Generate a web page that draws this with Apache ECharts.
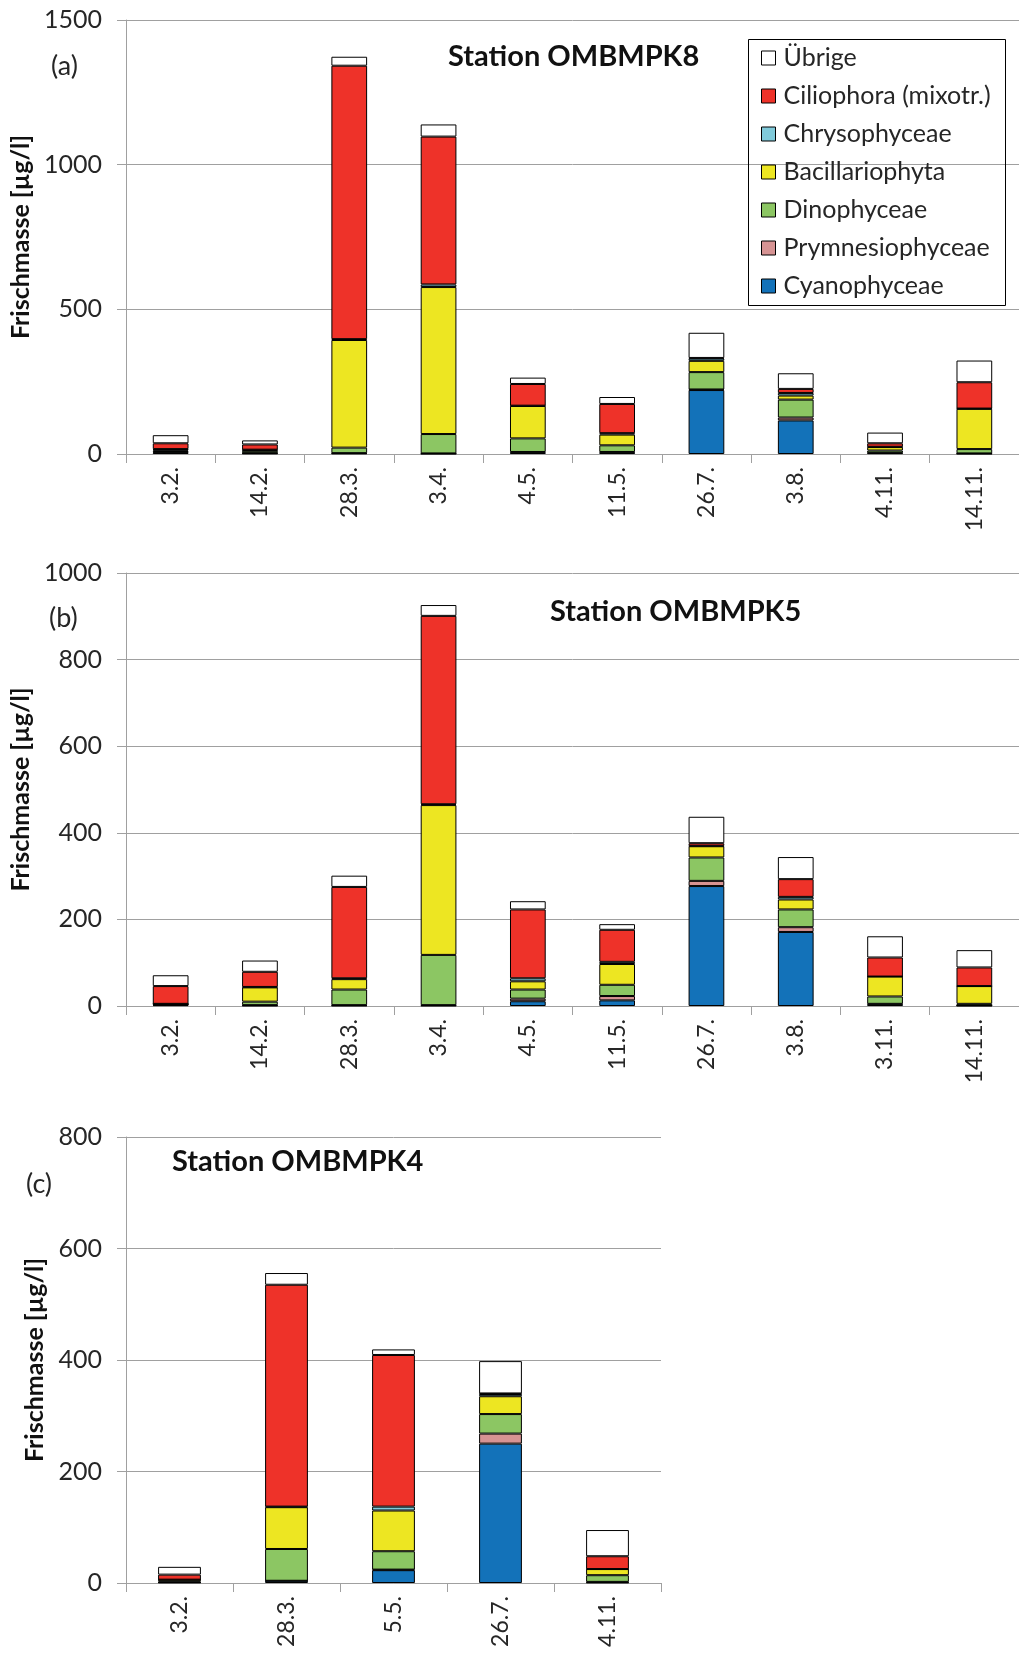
<!DOCTYPE html>
<html>
<head>
<meta charset="utf-8">
<script src="https://cdn.jsdelivr.net/npm/echarts@6/dist/echarts.min.js"></script>
<style>
html,body{margin:0;padding:0;background:#fff;}
#chart{width:1019px;height:1656px;}
</style>
</head>
<body>
<div id="chart"></div>
<script>
// ---- Data ----
const seriesNames = ['Cyanophyceae','Prymnesiophyceae','Dinophyceae','Bacillariophyta','Chrysophyceae','Ciliophora (mixotr.)','Übrige'];
const legendOrder = ['Übrige','Ciliophora (mixotr.)','Chrysophyceae','Bacillariophyta','Dinophyceae','Prymnesiophyceae','Cyanophyceae'];
const seriesColors = ['#1372B9','#D69393','#8CC663','#EDE622','#80CADA','#EE3229','#FFFFFF'];

const panelTitles = ['Station OMBMPK8','Station OMBMPK5','Station OMBMPK4'];
const panelLetters = ['(a)','(b)','(c)'];
const yAxisName = 'Frischmasse [µg/l]';

// Station OMBMPK8 (a)
const catsA = ['3.2.','14.2.','28.3.','3.4.','4.5.','11.5.','26.7.','3.8.','4.11.','14.11.'];
const cyanoA  = [5, 2, 2, 1, 5, 5, 221, 116, 3, 1];
const prymA   = [2, 1, 1, 1, 2, 2, 2, 10, 1, 1];
const dinoA   = [5, 8, 19, 67, 47, 23, 60, 62, 8, 15];
const bacilA  = [3, 3, 372, 508, 112, 37, 39, 14, 12, 139];
const chrysoA = [2, 1, 3, 9, 1, 5, 8, 9, 1, 1];
const ciliA   = [20, 18, 945, 511, 75, 101, 2, 14, 12, 91];
const uebrigA = [28, 14, 31, 42, 22, 24, 87, 54, 37, 75];

// Station OMBMPK5 (b)
const catsB = ['3.2.','14.2.','28.3.','3.4.','4.5.','11.5.','26.7.','3.8.','3.11.','14.11.'];
const cyanoB  = [2, 1, 1, 1, 11, 13, 277, 171, 4, 1];
const prymB   = [1, 1, 1, 1, 6, 10, 12, 11, 1, 0];
const dinoB   = [1, 8, 36, 116, 21, 26, 54, 41, 17, 4];
const bacilB  = [1, 33, 24, 346, 19, 48, 26, 23, 46, 41];
const chrysoB = [0, 1, 2, 2, 7, 5, 1, 6, 0, 0];
const ciliB   = [41, 35, 211, 435, 159, 74, 6, 41, 44, 43];
const uebrigB = [25, 26, 26, 25, 19, 13, 61, 51, 49, 40];

// Station OMBMPK4 (c)
const catsC = ['3.2.','28.3.','5.5.','26.7.','4.11.'];
const cyanoC  = [1, 4, 23, 250, 1];
const prymC   = [0, 0, 1, 18, 1];
const dinoC   = [2, 57, 33, 35, 12];
const bacilC  = [3, 75, 73, 32, 11];
const chrysoC = [0, 1, 7, 4, 0];
const ciliC   = [9, 398, 272, 1, 23];
const uebrigC = [14, 21, 10, 58, 47];

const yMax = [1500, 1000, 800];
const yInterval = [500, 200, 200];

// ---- Build ----
const panels = [
  {cats: catsA, data: [cyanoA, prymA, dinoA, bacilA, chrysoA, ciliA, uebrigA]},
  {cats: catsB, data: [cyanoB, prymB, dinoB, bacilB, chrysoB, ciliB, uebrigB]},
  {cats: catsC, data: [cyanoC, prymC, dinoC, bacilC, chrysoC, ciliC, uebrigC]}
];

const FONT = 'Lato';
const gray = '#A0A0A0';
const textCol = '#262626';

const grids = [
  {left: 126, top: 20, width: 900, height: 434},
  {left: 126, top: 573, width: 900, height: 433},
  {left: 126, top: 1137, width: 535, height: 446}
];
const nameGaps = [83, 83, 66];

const xAxes = panels.map((p, i) => ({
  type: 'category', gridIndex: i, data: p.cats,
  axisLine: {lineStyle: {color: gray, width: 1}},
  axisTick: {show: true, length: 9, lineStyle: {color: gray}},
  axisLabel: {rotate: 90, margin: 13, fontFamily: FONT, fontSize: 23, color: textCol, interval: 0}
}));
const yAxes = panels.map((p, i) => ({
  type: 'value', gridIndex: i, min: 0, max: yMax[i], interval: yInterval[i],
  name: yAxisName, nameLocation: 'middle', nameRotate: 90, nameGap: nameGaps[i],
  nameTextStyle: {fontFamily: FONT, fontSize: 25, fontWeight: 'bold', color: '#111'},
  axisLine: {show: true, lineStyle: {color: gray, width: 1}},
  axisTick: {show: true, length: 9, lineStyle: {color: gray}},
  axisLabel: {margin: 24, fontFamily: FONT, fontSize: 25, color: textCol, formatter: v => String(v)},
  splitLine: {show: true, lineStyle: {color: gray, width: 1}}
}));

const series = [];
panels.forEach((p, i) => {
  seriesNames.forEach((nm, k) => {
    series.push({
      type: 'bar', name: nm, stack: 'st' + i, xAxisIndex: i, yAxisIndex: i,
      data: p.data[k], barWidth: '40%',
      itemStyle: {color: seriesColors[k], borderColor: '#000', borderWidth: 1},
      emphasis: {disabled: true}, animation: false
    });
  });
});

const titleCenters = [[448, 57], [550, 612], [172, 1162]];
const letterPos = [[51, 68], [49, 620], [26, 1186]];

const option = {
  animation: false,
  color: seriesColors,
  grid: grids,
  xAxis: xAxes,
  yAxis: yAxes,
  series: series,
  title: panelTitles.map((t, i) => ({
    text: t, left: titleCenters[i][0], top: titleCenters[i][1] - 16, padding: 0,
    textStyle: {fontFamily: FONT, fontSize: 29, fontWeight: 'bold', color: '#111', lineHeight: 32}
  })),
  legend: {
    data: legendOrder, orient: 'vertical', left: 761, top: 45, padding: 0,
    itemWidth: 14, itemHeight: 14, itemGap: 12, icon: 'rect',
    itemStyle: {borderColor: '#000', borderWidth: 1},
    textStyle: {fontFamily: FONT, fontSize: 25, color: textCol, lineHeight: 26, padding: [0, 0, 0, 3]},
    selectedMode: false
  },
  graphic: [
    {type: 'rect', shape: {x: 748.5, y: 39.5, width: 257, height: 266},
     style: {fill: 'rgba(0,0,0,0)', stroke: '#000', lineWidth: 1}, z: 10}
  ].concat(panelLetters.map((l, i) => ({
    type: 'text', left: letterPos[i][0], top: letterPos[i][1] - 15,
    style: {text: l, font: '27px ' + FONT, fill: textCol}
  })))
};

const chart = echarts.init(document.getElementById('chart'), null, {renderer: 'canvas'});
chart.setOption(option);
</script>
</body>
</html>
